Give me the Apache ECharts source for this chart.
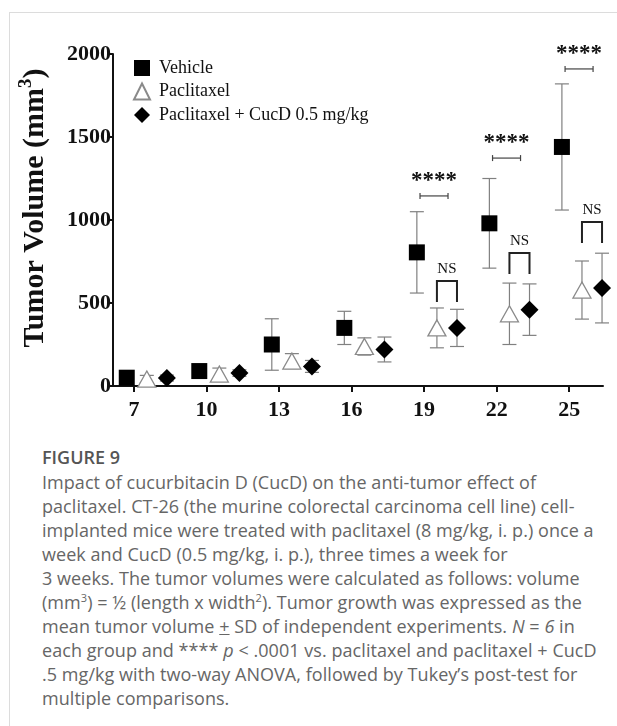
<!DOCTYPE html>
<html>
<head>
<meta charset="utf-8">
<script src="https://cdn.jsdelivr.net/npm/echarts@6/dist/echarts.min.js"></script>
<style>
  html, body { margin: 0; padding: 0; background: #fff; }
  body { width: 617px; height: 726px; position: relative; overflow: hidden; }
  .card { position: absolute; left: 9px; top: 12px; right: -2px; bottom: -2px; border-left: 1px solid #dcdcdc; border-top: 1px solid #dcdcdc; }
  #chart { position: absolute; left: 0; top: 0; width: 617px; height: 440px; }
  .caption { position: absolute; left: 42px; top: 444px; font-family: 'Open Sans', Lato, sans-serif; color: #666; font-size: 18px; letter-spacing: 0.05px; line-height: 24px; white-space: nowrap; }
  .caption .fig { color: #555; font-weight: 600; font-size: 18px; letter-spacing: 0; line-height: 26px; }
  .caption sup { font-size: 11px; line-height: 0; }
</style>
</head>
<body>
<div class="card"></div>
<div id="chart"></div>
<div class="caption">
  <div class="fig">FIGURE 9</div>
  <div>Impact of cucurbitacin D (CucD) on the anti-tumor effect of</div>
  <div>paclitaxel. CT-26 (the murine colorectal carcinoma cell line) cell-</div>
  <div>implanted mice were treated with paclitaxel (8 mg/kg, i. p.) once a</div>
  <div>week and CucD (0.5 mg/kg, i. p.), three times a week for</div>
  <div>3 weeks. The tumor volumes were calculated as follows: volume</div>
  <div>(mm<sup>3</sup>) = ½ (length x width<sup>2</sup>). Tumor growth was expressed as the</div>
  <div>mean tumor volume <u>+</u> SD of independent experiments. <i>N</i> = <i>6</i> in</div>
  <div>each group and **** <i>p</i> &lt; .0001 vs. paclitaxel and paclitaxel + CucD</div>
  <div>.5 mg/kg with two-way ANOVA, followed by Tukey’s post-test for</div>
  <div>multiple comparisons.</div>
</div>
<script>
// days after implantation
const days = [7, 10, 13, 16, 19, 22, 25];
const vehicleMean = [50, 90, 250, 350, 805, 980, 1440];
const vehicleSD = [18, 20, 155, 100, 245, 270, 380];
const paclitaxelMean = [42, 72, 150, 238, 350, 435, 578];
const paclitaxelSD = [22, 36, 45, 52, 120, 185, 175];
const cucdMean = [48, 78, 118, 220, 350, 460, 590];
const cucdSD = [18, 20, 36, 75, 112, 155, 210];
// significance marks
const sigDays = [19, 22, 25];
const starLevel = [1145, 1373, 1910];
const nsLevel = [632, 801, 988];

// groups are drawn side by side around each day
const groupShift = [-0.3, 0.53, 1.36];
const serif = '"Liberation Serif", "DejaVu Serif", serif';

function errorData(mean, sd, shift) {
  return days.map((d, i) => [d + shift, mean[i] - sd[i], mean[i] + sd[i]]);
}
function pointData(mean, shift) {
  return days.map((d, i) => [d + shift, mean[i]]);
}

function errorBarItem(params, api) {
  const x = api.value(0);
  const lo = api.coord([x, api.value(1)]);
  const hi = api.coord([x, api.value(2)]);
  const w = 7;
  const style = { stroke: '#808080', lineWidth: 1.2 };
  return {
    type: 'group',
    children: [
      { type: 'line', shape: { x1: lo[0], y1: lo[1], x2: hi[0], y2: hi[1] }, style: style },
      { type: 'line', shape: { x1: lo[0] - w, y1: lo[1], x2: lo[0] + w, y2: lo[1] }, style: style },
      { type: 'line', shape: { x1: hi[0] - w, y1: hi[1], x2: hi[0] + w, y2: hi[1] }, style: style }
    ]
  };
}

function sigItem(params, api) {
  const d = api.value(0);
  const star = api.coord([d + 0.41, api.value(1)]);
  const left = api.coord([d + groupShift[1], api.value(2)]);
  const right = api.coord([d + groupShift[2], api.value(2)]);
  const hw = 14;
  const leg = 21;
  const thin = { stroke: '#444', lineWidth: 1.2 };
  const thick = { stroke: '#222', lineWidth: 2, fill: null };
  return {
    type: 'group',
    children: [
      { type: 'line', shape: { x1: star[0] - hw, y1: star[1], x2: star[0] + hw, y2: star[1] }, style: thin },
      { type: 'line', shape: { x1: star[0] - hw, y1: star[1] - 3, x2: star[0] - hw, y2: star[1] + 3 }, style: thin },
      { type: 'line', shape: { x1: star[0] + hw, y1: star[1] - 3, x2: star[0] + hw, y2: star[1] + 3 }, style: thin },
      {
        type: 'text', x: star[0], y: star[1] - 15,
        style: { text: '****', fill: '#111', font: 'bold 23px ' + serif, align: 'center', verticalAlign: 'middle' }
      },
      {
        type: 'polyline',
        shape: { points: [[left[0], left[1] + leg], [left[0], left[1]], [right[0], right[1]], [right[0], right[1] + leg]] },
        style: thick
      },
      {
        type: 'text', x: (left[0] + right[0]) / 2, y: left[1] - 12,
        style: { text: 'NS', fill: '#111', font: '15px ' + serif, align: 'center', verticalAlign: 'middle' }
      }
    ]
  };
}

var myChart = echarts.init(document.getElementById('chart'));

const getOptions = () => {
  return {
    animation: false,
    grid: { left: 113, right: 14, top: 54, bottom: 54 },
    legend: {
      orient: 'vertical',
      left: 128,
      top: 54,
      itemWidth: 16,
      itemHeight: 16,
      itemGap: 5.5,
      textStyle: { fontFamily: serif, fontSize: 18, color: '#111', padding: [0, 0, 0, 4] },
      data: [
        { name: 'Vehicle', icon: 'rect' },
        { name: 'Paclitaxel', icon: 'triangle' },
        { name: 'Paclitaxel + CucD 0.5 mg/kg', icon: 'diamond' }
      ]
    },
    xAxis: {
      type: 'value',
      min: 6.131,
      max: 26.4,
      splitLine: { show: false },
      axisLine: { lineStyle: { color: '#111', width: 2 } },
      axisTick: { customValues: days, length: 6, lineStyle: { color: '#111', width: 2 } },
      axisLabel: {
        customValues: days,
        margin: 13,
        color: '#111',
        fontFamily: serif,
        fontWeight: 'bold',
        fontSize: 22
      }
    },
    yAxis: {
      type: 'value',
      min: 0,
      max: 2000,
      interval: 500,
      splitLine: { show: false },
      axisLine: { show: true, lineStyle: { color: '#111', width: 2 } },
      axisTick: { show: true, length: 5, lineStyle: { color: '#111', width: 2 } },
      axisLabel: {
        margin: 2,
        color: '#111',
        fontFamily: serif,
        fontWeight: 'bold',
        fontSize: 22,
        formatter: val => String(val)
      },
      name: '{a|Tumor Volume (mm}{b|3}{a|)}',
      nameLocation: 'middle',
      nameGap: 60,
      nameTextStyle: {
        padding: [0, 0, 0, 24],
        rich: {
          a: { fontFamily: serif, fontWeight: 'bold', fontSize: 30, color: '#111', lineHeight: 36 },
          b: { fontFamily: serif, fontWeight: 'bold', fontSize: 19, color: '#111', lineHeight: 19, verticalAlign: 'top' }
        }
      }
    },
    series: [
      { type: 'custom', name: 'err-v', renderItem: errorBarItem, data: errorData(vehicleMean, vehicleSD, groupShift[0]), z: 1 },
      { type: 'custom', name: 'err-p', renderItem: errorBarItem, data: errorData(paclitaxelMean, paclitaxelSD, groupShift[1]), z: 1 },
      { type: 'custom', name: 'err-c', renderItem: errorBarItem, data: errorData(cucdMean, cucdSD, groupShift[2]), z: 1 },
      {
        name: 'Vehicle',
        type: 'scatter',
        symbol: 'rect',
        symbolSize: 16,
        itemStyle: { color: '#000', opacity: 1 },
        data: pointData(vehicleMean, groupShift[0]),
        z: 3
      },
      {
        name: 'Paclitaxel',
        type: 'scatter',
        symbol: 'triangle',
        symbolSize: [18, 16],
        itemStyle: { color: '#fff', borderColor: '#8a8a8a', borderWidth: 1.3, opacity: 1 },
        data: pointData(paclitaxelMean, groupShift[1]),
        z: 3
      },
      {
        name: 'Paclitaxel + CucD 0.5 mg/kg',
        type: 'scatter',
        symbol: 'diamond',
        symbolSize: 18,
        itemStyle: { color: '#000', opacity: 1 },
        data: pointData(cucdMean, groupShift[2]),
        z: 3
      },
      {
        type: 'custom',
        name: 'sig',
        renderItem: sigItem,
        data: sigDays.map((d, i) => [d, starLevel[i], nsLevel[i]]),
        z: 4
      }
    ]
  };
};

myChart.setOption(getOptions(), true);
</script>
</body>
</html>
